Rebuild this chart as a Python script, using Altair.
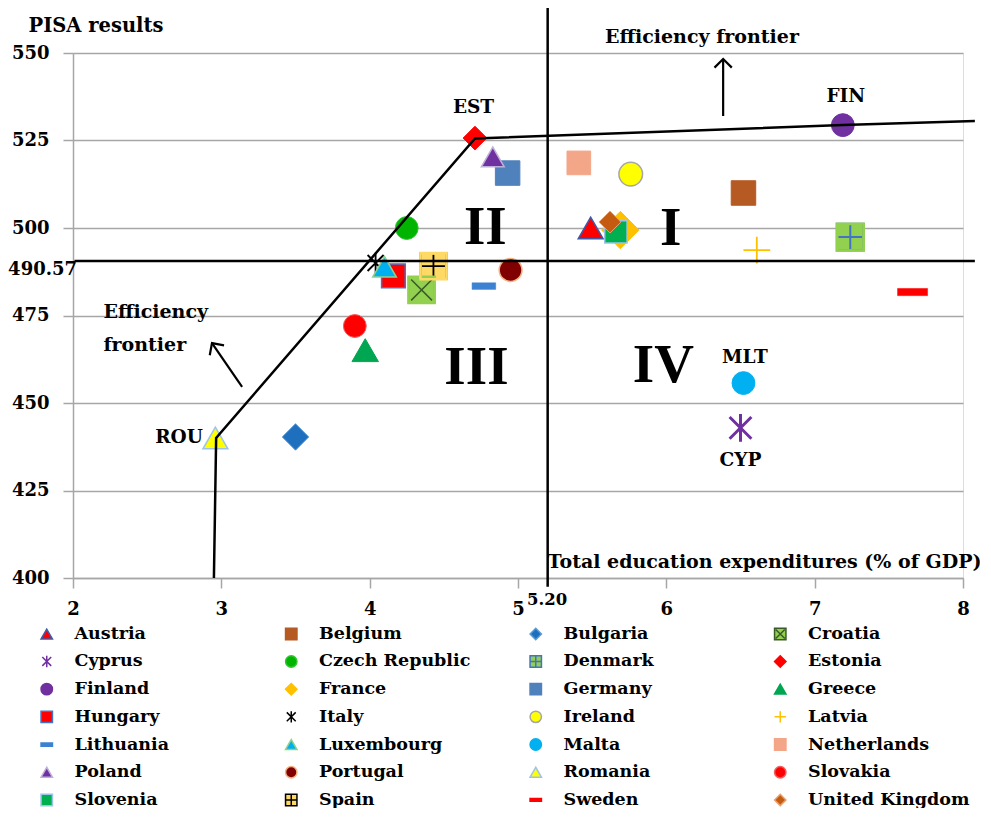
import altair as alt
import pandas as pd

# ---------------- data ----------------
countries = ["Austria", "Belgium", "Bulgaria", "Croatia", "Cyprus", "Czech Republic",
             "Denmark", "Estonia", "Finland", "France", "Germany", "Greece", "Hungary",
             "Italy", "Ireland", "Latvia", "Lithuania", "Luxembourg", "Malta",
             "Netherlands", "Poland", "Portugal", "Romania", "Slovakia", "Slovenia",
             "Spain", "Sweden", "United Kingdom"]
expenditure = [5.49, 6.52, 3.50, 4.35, 6.50, 4.25, 7.24, 4.71, 7.19, 5.69, 4.93, 3.97,
               4.16, 4.04, 5.76, 6.61, 4.77, 4.10, 6.52, 5.41, 4.83, 4.95, 2.96, 3.90,
               5.66, 4.43, 7.66, 5.62]
pisa = [500.0, 510.0, 440.3, 482.3, 442.9, 500.0, 497.4, 525.7, 529.4, 499.4, 515.7,
        465.1, 486.3, 490.0, 515.4, 493.7, 483.4, 488.9, 455.7, 518.6, 520.3, 488.0,
        440.0, 472.0, 498.9, 489.1, 481.7, 501.7]

# efficiency frontier
frontier_x = [2.95, 2.965, 4.71, 7.19, 8.08]
frontier_y = [400.0, 440.0, 525.6, 529.4, 530.6]

pisa_mean = 490.57
exp_mean = 5.20

# country code labels
code_text = ["EST", "FIN", "MLT", "CYP"]
code_x = [4.70, 7.21, 6.53, 6.50]
code_y = [534.6, 537.7, 463.1, 433.7]

# quadrant numerals
quad_text = ["II", "I", "III", "IV"]
quad_x = [4.78, 6.03, 4.72, 5.98]
quad_y = [500.3, 500.0, 460.3, 460.9]

# arrows (tail -> tip)
arrow_x1 = [6.383, 3.14]
arrow_y1 = [532.0, 454.6]
arrow_x2 = [6.383, 2.937]
arrow_y2 = [548.3, 467.1]

y_ticks = [400, 425, 450, 475, 500, 525, 550]
x_ticks = [2, 3, 4, 5, 6, 7, 8]

# ---------------- styles ----------------
TRI = "triangle-up"
SQ = "square"
DIA = "diamond"
CIR = "circle"
AST = "M0,-1V1M-0.78,-0.78L0.78,0.78M-0.78,0.78L0.78,-0.78"
PLUS = "M0,-1V1M-1,0H1"
DASH = "M-1,-0.28H1V0.28H-1Z"
DASH2 = "M-1,-0.24H1V0.24H-1Z"
SQPLUS = "M-1,-1H1V1H-1ZM0,-0.88V0.88M-0.88,0H0.88"
SQX = "M-1,-1H1V1H-1ZM-0.8,-0.8L0.8,0.8M-0.8,0.8L0.8,-0.8"

style = {
    # country: (shape, fill, stroke, size, strokeWidth)
    "Austria": (TRI, "#FF0000", "#3F5AA8", 620, 1.5),
    "Belgium": (SQ, "#B45A22", "#B45A22", 600, 1),
    "Bulgaria": (DIA, "#1F6FBF", "#5B9BD5", 700, 1),
    "Croatia": (SQX, "#92D050", "#3A5A28", 680, 1.5),
    "Cyprus": (AST, "transparent", "#7030A0", 780, 3),
    "Czech Republic": (CIR, "#00B400", "#33C433", 520, 1),
    "Denmark": (SQPLUS, "#92D050", "#4472C4", 720, 2),
    "Estonia": (DIA, "#FF0000", "#FF0000", 560, 1),
    "Finland": (CIR, "#7030A0", "#7030A0", 520, 1),
    "France": (DIA, "#FFC000", "#FFC000", 1400, 1),
    "Germany": (SQ, "#4F81BD", "#4F81BD", 600, 1),
    "Greece": (TRI, "#00A651", "#00A651", 700, 1),
    "Hungary": (SQ, "#FF0000", "#4472C4", 560, 1.5),
    "Italy": (AST, "transparent", "#000000", 420, 1.8),
    "Ireland": (CIR, "#FFFF00", "#A6A6A6", 560, 1.5),
    "Latvia": (PLUS, "transparent", "#FFC000", 720, 1.8),
    "Lithuania": (DASH, "#3C82D2", "#3C82D2", 560, 0.5),
    "Luxembourg": (TRI, "#00B0F0", "#8FD18A", 560, 1.5),
    "Malta": (CIR, "#00B0F0", "#00B0F0", 520, 1),
    "Netherlands": (SQ, "#F4A688", "#F4A688", 560, 1),
    "Poland": (TRI, "#7030A0", "#BFB0D8", 520, 1.5),
    "Portugal": (CIR, "#800000", "#F4B183", 520, 1.5),
    "Romania": (TRI, "#FFFF00", "#9DC3E6", 620, 1.5),
    "Slovakia": (CIR, "#FF0000", "#F06060", 520, 1),
    "Slovenia": (SQ, "#00B050", "#9DC3E6", 500, 1.5),
    "Spain": (SQPLUS, "#FFD966", "#000000", 680, 1.8),
    "Sweden": (DASH2, "#FF0000", "#FF0000", 900, 0.5),
    "United Kingdom": (DIA, "#C55A11", "#E8A070", 480, 1),
}
covered = ["Croatia", "Denmark", "Spain"]

FONT = "DejaVu Serif"
GRID = "#A6A6A6"

# ---------------- tables ----------------
pts = pd.DataFrame({"country": countries, "exp": expenditure, "pisa": pisa})
pts["order"] = range(len(pts))
pts["sz"] = [style[c][3] for c in countries]
pts["sw"] = [style[c][4] for c in countries]
pts["fillc"] = [style[c][1] for c in countries]

cover = pts[pts["country"].isin(covered)]

front = pd.DataFrame({"x": frontier_x, "y": frontier_y, "o": range(len(frontier_x))})
rules = pd.DataFrame({"x": [2.01, exp_mean], "x2": [8.08, exp_mean],
                      "y": [pisa_mean, 397.5], "y2": [pisa_mean, 563.0]})
arrows = pd.DataFrame({"x": arrow_x1, "y": arrow_y1, "x2": arrow_x2, "y2": arrow_y2})
heads = pd.DataFrame({"x": arrow_x2, "y": arrow_y2, "ang": [0, 325.5]})
codes = pd.DataFrame({"t": code_text, "x": code_x, "y": code_y})
rou = pd.DataFrame({"t": ["ROU"], "x": [2.875], "y": [440.3]})
quads = pd.DataFrame({"t": quad_text, "x": quad_x, "y": quad_y})
eff_top = pd.DataFrame({"t": ["Efficiency frontier"], "x": [6.24], "y": [554.6]})
eff_left = pd.DataFrame({"t": [["Efficiency", "frontier"]], "x": [2.205], "y": [476.0]})
mean_y_lbl = pd.DataFrame({"t": [f"{pisa_mean:.2f}"], "x": [2.027], "y": [488.0]})
mean_x_lbl = pd.DataFrame({"t": [f"{exp_mean:.2f}"], "x": [5.196], "y": [393.7]})

# ---------------- scales / axes ----------------
xs = alt.Scale(domain=[2, 8], nice=False, zero=False)
ys = alt.Scale(domain=[400, 550], nice=False, zero=False)

x_axis = alt.Axis(values=x_ticks, grid=False, tickSize=10, tickColor=GRID, tickWidth=1.5,
                  domainColor=GRID, domainWidth=1.5, labelFont=FONT, labelFontSize=18,
                  labelFontWeight="bold", labelColor="black", labelPadding=12,
                  labelFlush=False,
                  title="Total education expenditures (% of GDP)", titleFont=FONT,
                  titleFontSize=19, titleFontWeight="bold", titleColor="black",
                  titleX=474, titleY=-11, titleAlign="left", titleBaseline="alphabetic",
                  titleAnchor="start")
y_axis = alt.Axis(values=y_ticks, grid=True, gridColor=GRID, gridWidth=1.5, tickSize=10,
                  tickColor=GRID, tickWidth=1.5, domainColor=GRID, domainWidth=1.5,
                  labelFont=FONT, labelFontSize=18, labelFontWeight="bold",
                  labelColor="black", labelPadding=14, labelFlush=False,
                  title="PISA results",
                  titleFont=FONT, titleFontSize=19.5, titleFontWeight="bold",
                  titleColor="black", titleAngle=0, titleX=-45, titleY=-22,
                  titleAlign="left", titleBaseline="alphabetic", titleAnchor="start")


def X(f):
    return alt.X(f, type="quantitative", scale=xs, axis=x_axis)


def Y(f):
    return alt.Y(f, type="quantitative", scale=ys, axis=y_axis)


leg = alt.Legend(title=None, orient="none", legendX=-35, legendY=572, columns=4,
                 direction="horizontal",
                 columnPadding=46.5, rowPadding=8.7, gridAlign="all", symbolSize=130,
                 symbolStrokeWidth=1.5, labelFont=FONT, labelFontSize=17.5,
                 labelFontWeight="bold", labelColor="black", labelOffset=19,
                 symbolLimit=50, padding=0, labelLimit=400)

dom = countries
points = alt.Chart(pts).mark_point(filled=True, opacity=1).encode(
    x=X("exp"), y=Y("pisa"),
    fill=alt.Fill("country:N", scale=alt.Scale(domain=dom, range=[style[c][1] for c in dom]), legend=leg),
    stroke=alt.Stroke("country:N", scale=alt.Scale(domain=dom, range=[style[c][2] for c in dom]), legend=leg),
    shape=alt.Shape("country:N", scale=alt.Scale(domain=dom, range=[style[c][0] for c in dom]), legend=leg),
    size=alt.Size("sz:Q", scale=None),
    strokeWidth=alt.StrokeWidth("sw:Q", scale=None),
    order=alt.Order("order:Q"),
)

cover_layer = alt.Chart(cover).mark_point(shape="square", filled=False, opacity=1, strokeWidth=2.6).encode(
    x=X("exp"), y=Y("pisa"),
    stroke=alt.Stroke("fillc:N", scale=None),
    size=alt.Size("sz:Q", scale=None),
)

frontier = alt.Chart(front).mark_line(color="black", strokeWidth=2.5).encode(
    x=X("x"), y=Y("y"), order="o:Q")

rule_layer = alt.Chart(rules).mark_rule(color="black", strokeWidth=2.5).encode(
    x=X("x"), x2="x2", y=Y("y"), y2="y2")

arrow_layer = alt.Chart(arrows).mark_rule(color="black", strokeWidth=2.2).encode(
    x=X("x"), x2="x2", y=Y("y"), y2="y2")

head_layer = alt.Chart(heads).mark_point(shape="M-1,1L0,0L1,1", filled=False, color="black",
                                        opacity=1, strokeWidth=2.2, size=300).encode(
    x=X("x"), y=Y("y"), angle=alt.Angle("ang:Q", scale=None))


def text_layer(df, **kw):
    base = dict(font=FONT, fontSize=18.5, fontWeight="bold", color="black",
                baseline="middle", align="center")
    base.update(kw)
    return alt.Chart(df).mark_text(**base).encode(x=X("x"), y=Y("y"), text="t")


code_layer = text_layer(codes)
rou_layer = text_layer(rou, align="right")
quad_layer = text_layer(quads, font="Liberation Serif", fontSize=55)
eff_top_layer = text_layer(eff_top, fontSize=19)
eff_left_layer = text_layer(eff_left, align="left", lineHeight=33, fontSize=19)
mean_y_layer = text_layer(mean_y_lbl, align="right", fontSize=18)
mean_x_layer = text_layer(mean_x_lbl, fontSize=16.5)

chart = alt.layer(
    points, cover_layer, frontier, rule_layer, arrow_layer, head_layer,
    code_layer, rou_layer, quad_layer, eff_top_layer, eff_left_layer,
    mean_y_layer, mean_x_layer,
).properties(
    width=890, height=525,
    padding={"left": 65, "top": 45, "right": 17, "bottom": 230},
    autosize=alt.AutoSizeParams(type="none"),
).configure_view(stroke=None).configure(background="white")

chart.save("out.html", embed_options={"renderer": "svg", "actions": False})
